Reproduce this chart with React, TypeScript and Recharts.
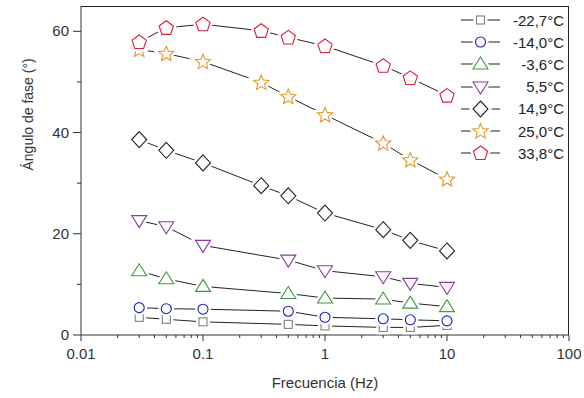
import { LineChart, Line, XAxis, YAxis } from "recharts";

const freqAll = [0.03, 0.05, 0.1, 0.3, 0.5, 1, 3, 5, 10];
const freqShort = [0.03, 0.05, 0.1, 0.5, 1, 3, 5, 10];

const angM227 = [3.5, 3.1, 2.6, 2.1, 1.8, 1.5, 1.5, 1.9];
const angM140 = [5.4, 5.2, 5.1, 4.7, 3.5, 3.2, 3.0, 2.8];
const angM36 = [12.7, 11.1, 9.6, 8.2, 7.3, 7.1, 6.3, 5.6];
const ang55 = [22.6, 21.4, 17.7, 14.8, 12.7, 11.5, 10.2, 9.4];
const ang149 = [38.6, 36.5, 34.0, 29.5, 27.5, 24.1, 20.8, 18.7, 16.6];
const ang250 = [56.4, 55.6, 54.0, 49.9, 47.1, 43.5, 37.9, 34.6, 30.8];
const ang338 = [57.9, 60.7, 61.4, 60.1, 58.8, 57.1, 53.2, 50.8, 47.3];

const xMajor = [0.01, 0.1, 1, 10, 100];
const xMinor = [
  0.02, 0.03, 0.04, 0.05, 0.06, 0.07, 0.08, 0.09,
  0.2, 0.3, 0.4, 0.5, 0.6, 0.7, 0.8, 0.9,
  2, 3, 4, 5, 6, 7, 8, 9,
  20, 30, 40, 50, 60, 70, 80, 90,
];
const yMajor = [0, 20, 40, 60];
const yMinor = [10, 30, 50];

type Kind = "square" | "circle" | "up" | "down" | "diamond" | "star" | "pentagon";

const series: { name: string; freq: number[]; vals: number[]; kind: Kind; color: string }[] = [
  { name: "-22,7°C", freq: freqShort, vals: angM227, kind: "square", color: "#808080" },
  { name: "-14,0°C", freq: freqShort, vals: angM140, kind: "circle", color: "#1c1cc4" },
  { name: "-3,6°C", freq: freqShort, vals: angM36, kind: "up", color: "#3f9a3f" },
  { name: "5,5°C", freq: freqShort, vals: ang55, kind: "down", color: "#8a3a9a" },
  { name: "14,9°C", freq: freqAll, vals: ang149, kind: "diamond", color: "#222222" },
  { name: "25,0°C", freq: freqAll, vals: ang250, kind: "star", color: "#e39a2c" },
  { name: "33,8°C", freq: freqAll, vals: ang338, kind: "pentagon", color: "#de1a3c" },
];

const FONT = "'Liberation Sans', Arial, sans-serif";
const INK = "#333333";

const W = 584;
const H = 398;
const M = { top: 6, right: 15, bottom: 0, left: 0 };
const Y_W = 81;
const X_H = 63;

function polyPoints(cx: number, cy: number, n: number, rOut: number, rIn?: number) {
  const pts: string[] = [];
  const count = rIn ? n * 2 : n;
  for (let i = 0; i < count; i++) {
    const r = rIn && i % 2 === 1 ? rIn : rOut;
    const a = -Math.PI / 2 + (i * 2 * Math.PI) / count;
    pts.push(`${cx + r * Math.cos(a)},${cy + r * Math.sin(a)}`);
  }
  return pts.join(" ");
}

function Shape({ kind, cx, cy, stroke, fill, sw }: { kind: Kind; cx: number; cy: number; stroke: string; fill: string; sw: number }) {
  const p = { stroke, fill, strokeWidth: sw, strokeLinejoin: "miter" as const };
  switch (kind) {
    case "square":
      return <rect x={cx - 4} y={cy - 4} width={8} height={8} {...p} />;
    case "circle":
      return <circle cx={cx} cy={cy} r={5} {...p} />;
    case "up":
      return <polygon points={`${cx},${cy - 7} ${cx + 7.5},${cy + 5} ${cx - 7.5},${cy + 5}`} {...p} />;
    case "down":
      return <polygon points={`${cx},${cy + 7} ${cx + 7.5},${cy - 5} ${cx - 7.5},${cy - 5}`} {...p} />;
    case "diamond":
      return <polygon points={`${cx},${cy - 8} ${cx + 7.5},${cy} ${cx},${cy + 8} ${cx - 7.5},${cy}`} {...p} />;
    case "star":
      return <polygon points={polyPoints(cx, cy + 0.5, 5, 8, 3.6)} {...p} />;
    case "pentagon":
      return <polygon points={polyPoints(cx, cy + 0.5, 5, 7.5)} {...p} />;
  }
}

function Marker({ kind, cx, cy, color }: { kind: Kind; cx: number; cy: number; color: string }) {
  return (
    <g>
      <Shape kind={kind} cx={cx} cy={cy} stroke="#ffffff" fill="#ffffff" sw={6} />
      <Shape kind={kind} cx={cx} cy={cy} stroke={color} fill="#ffffff" sw={1.1} />
    </g>
  );
}

const XTick = (props: any) => {
  const { x, y, payload } = props;
  const major = xMajor.includes(payload.value);
  return (
    <g>
      <line x1={x} x2={x} y1={y} y2={y + (major ? 6 : 3)} stroke={INK} strokeWidth={1} />
      {major && (
        <text x={x} y={y + 24} textAnchor="middle" fontSize={15} fontFamily={FONT} fill={INK}>
          {String(payload.value)}
        </text>
      )}
    </g>
  );
};

const YTick = (props: any) => {
  const { x, y, payload } = props;
  const major = yMajor.includes(payload.value);
  return (
    <g>
      <line x1={x} x2={x - (major ? 8 : 4)} y1={y} y2={y} stroke={INK} strokeWidth={1} />
      {major && (
        <text x={x - 12} y={y + 5} textAnchor="end" fontSize={15} fontFamily={FONT} fill={INK}>
          {payload.value}
        </text>
      )}
    </g>
  );
};

function LegendBox() {
  return (
    <div style={{ position: "absolute", left: 459, top: 9, fontFamily: FONT, fontSize: 15, color: "#222" }}>
      {series.map((s) => (
        <div key={s.name} style={{ display: "flex", alignItems: "center", height: 22.2 }}>
          <svg width={42} height={20}>
            <line x1={2} x2={41} y1={10} y2={10} stroke="#222" strokeWidth={1} />
            <Marker kind={s.kind} cx={21.5} cy={10} color={s.color} />
          </svg>
          <span style={{ width: 63, textAlign: "right", whiteSpace: "nowrap" }}>{s.name}</span>
        </div>
      ))}
    </div>
  );
}

// top and right edges of the plot box, drawn in an overlay svg
function FrameOverlay() {
  const left = M.left + Y_W;
  const top = M.top;
  const right = W - M.right;
  const bottom = H - M.bottom - X_H;
  return (
    <svg
      width={W}
      height={H}
      style={{ position: "absolute", left: 0, top: 0, pointerEvents: "none", zIndex: 5 }}
    >
      <polyline
        points={`${left},${top + 0.5} ${right - 0.5},${top + 0.5} ${right - 0.5},${bottom}`}
        fill="none"
        stroke="#222"
        strokeWidth={1}
        shapeRendering="crispEdges"
      />
    </svg>
  );
}

export default function App() {
  return (
    <div style={{ position: "absolute", left: 0, top: 0, width: W, height: H, background: "#fff" }}>
      <LineChart width={W} height={H} margin={M}>
        <XAxis
          dataKey="f"
          type="number"
          scale="log"
          domain={[0.01, 100]}
          allowDataOverflow
          ticks={[...xMajor, ...xMinor]}
          interval={0}
          tickSize={0}
          tickMargin={0}
          tickLine={false}
          tick={<XTick />}
          axisLine={{ stroke: INK }}
          height={X_H}
          label={{ value: "Frecuencia (Hz)", position: "insideBottom", offset: 10, fontSize: 15, fontFamily: FONT, fill: INK }}
        />
        <YAxis
          type="number"
          domain={[0, 65]}
          allowDataOverflow
          ticks={[...yMajor, ...yMinor]}
          interval={0}
          tickSize={0}
          tickMargin={0}
          tickLine={false}
          tick={<YTick />}
          axisLine={{ stroke: INK }}
          width={Y_W}
          label={{ value: "Ángulo de fase  (°)", angle: -90, position: "insideLeft", offset: 28, fontSize: 14, fontFamily: FONT, fill: INK }}
        />
        {series.map((s) => (
          <Line
            key={s.name}
            data={s.freq.map((f, i) => ({ f, v: s.vals[i] }))}
            dataKey="v"
            type="linear"
            stroke="#222"
            strokeWidth={1}
            isAnimationActive={false}
            dot={(p: any) => <Marker key={`${s.name}-${p.index}`} kind={s.kind} cx={p.cx} cy={p.cy} color={s.color} />}
            activeDot={false}
          />
        ))}
      </LineChart>
      <FrameOverlay />
      <LegendBox />
    </div>
  );
}
